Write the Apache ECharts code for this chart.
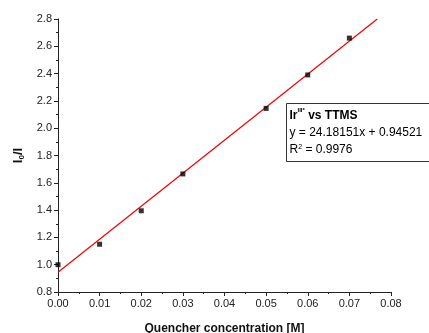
<!DOCTYPE html>
<html>
<head>
<meta charset="utf-8">
<style>
  html, body { margin: 0; padding: 0; background: #fff; }
  #chart { width: 429px; height: 333px; }
</style>
<script src="https://cdn.jsdelivr.net/npm/echarts@6/dist/echarts.min.js"></script>
</head>
<body>
<div id="chart"></div>
<script>
// measured points
const concentrations = [0.00, 0.01, 0.02, 0.03, 0.05, 0.06, 0.07];
const ratios = [1.00, 1.15, 1.395, 1.665, 2.145, 2.39, 2.66];

// linear fit
const slope = 24.18151;
const intercept = 0.94521;
const fitRange = [0.0, 0.0767];

const font = "'Liberation Sans', Arial, sans-serif";
const chart = echarts.init(document.getElementById("chart"), null, { renderer: "canvas" });

const fitLine = fitRange.map((x) => [x, slope * x + intercept]);

chart.setOption({
  animation: false,
  grid: { left: 58, right: 38, top: 19, bottom: 41, containLabel: false, outerBoundsMode: "none" },
  xAxis: {
    type: "value",
    min: 0,
    max: 0.08,
    interval: 0.01,
    name: "Quencher concentration [M]",
    nameLocation: "middle",
    nameGap: 31,
    nameTextStyle: { fontFamily: font, fontSize: 12, fontWeight: "bold", color: "#111" },
    axisLine: { onZero: false, lineStyle: { color: "#222", width: 1 } },
    axisTick: { inside: false, length: 4, lineStyle: { color: "#222" } },
    minorTick: { show: true, splitNumber: 2, length: 2, lineStyle: { color: "#222" } },
    axisLabel: {
      fontFamily: font, fontSize: 11, color: "#222", margin: 6,
      formatter: (v) => v.toFixed(2),
    },
    splitLine: { show: false },
  },
  yAxis: {
    type: "value",
    min: 0.8,
    max: 2.8,
    interval: 0.2,
    name: "{a|I}{s|0}{a|/I}",
    nameLocation: "middle",
    nameGap: 30,
    nameRotate: 90,
    nameTextStyle: {
      rich: {
        a: { fontFamily: font, fontSize: 13, fontWeight: "bold", color: "#111" },
        s: { fontFamily: font, fontSize: 8, fontWeight: "bold", color: "#111", verticalAlign: "bottom", padding: [6, 0, 0, 0] },
      },
    },
    axisLine: { show: true, onZero: false, lineStyle: { color: "#222", width: 1 } },
    axisTick: { show: true, inside: false, length: 4, lineStyle: { color: "#222" } },
    minorTick: { show: true, splitNumber: 2, length: 2, lineStyle: { color: "#222" } },
    axisLabel: {
      fontFamily: font, fontSize: 11, color: "#222", margin: 6,
      formatter: (v) => v.toFixed(1),
    },
    splitLine: { show: false },
  },
  series: [
    {
      name: "fit",
      type: "line",
      data: fitLine,
      showSymbol: false,
      lineStyle: { color: "#f00000", width: 1.2 },
      z: 2,
    },
    {
      name: "data",
      type: "scatter",
      data: concentrations.map((c, i) => [c, ratios[i]]),
      symbol: "rect",
      symbolSize: 5,
      itemStyle: { color: "#000" },
      z: 3,
    },
  ],
  graphic: [
    {
      type: "group",
      left: 286,
      top: 103,
      children: [
        {
          type: "rect",
          shape: { x: 0, y: 0, width: 150, height: 58 },
          style: { fill: "#fff", stroke: "#333", lineWidth: 1 },
        },
        {
          type: "text",
          x: 3,
          y: 4,
          style: {
            text: "{b|Ir}{sb|III*}{b| vs TTMS}\n{n|y = 24.18151x + 0.94521}\n{n|R}{sn|2}{n| = 0.9976}",
            rich: {
              b: { fontFamily: font, fontSize: 12, fontWeight: "bold", color: "#111", lineHeight: 17 },
              sb: { fontFamily: font, fontSize: 6, fontWeight: "bold", color: "#111", verticalAlign: "top", lineHeight: 17, padding: [0, 0, 6, 0] },
              n: { fontFamily: font, fontSize: 12, color: "#111", lineHeight: 17 },
              sn: { fontFamily: font, fontSize: 7, color: "#111", lineHeight: 17, padding: [0, 0, 6, 0] },
            },
          },
        },
      ],
    },
  ],
});
</script>
</body>
</html>
